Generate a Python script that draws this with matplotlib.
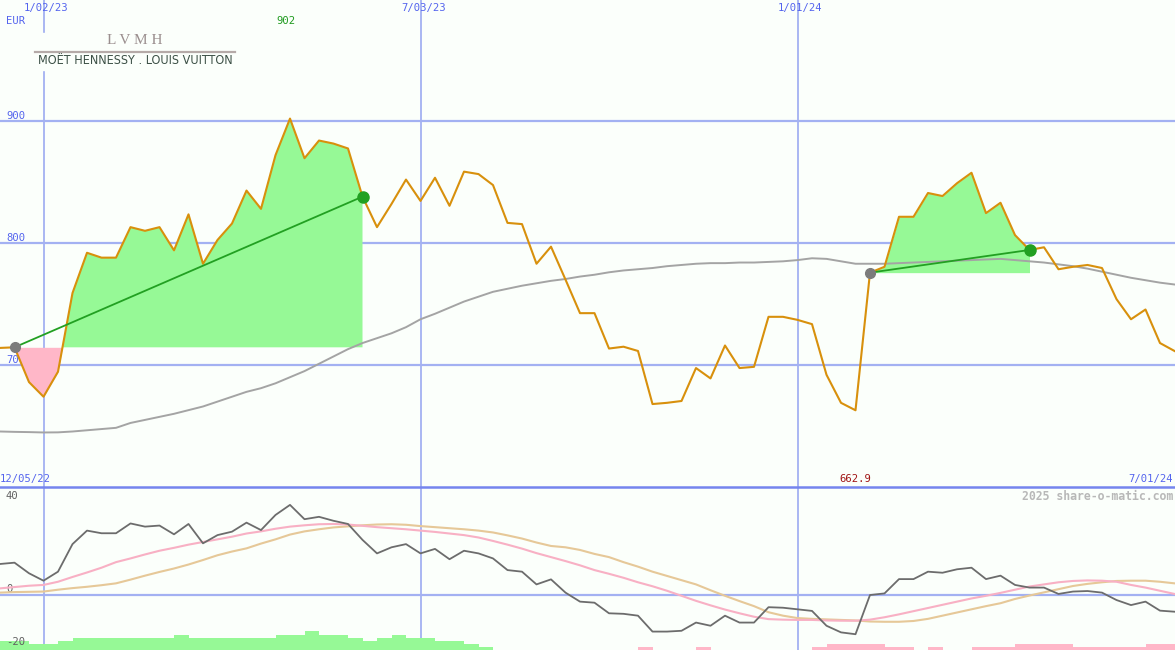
import matplotlib
matplotlib.use("Agg")
import matplotlib.pyplot as plt
import numpy as np
from matplotlib import font_manager
from matplotlib.lines import Line2D
from matplotlib.patches import Rectangle

# weekly closes, 12/12/22 .. 7/01/24 (EUR)
price = [714, 714.5, 686, 674, 694.5, 759, 792, 788, 788, 813,
         810, 813, 794, 823.5, 783, 802.5, 816, 843, 828, 872,
         902, 869.5, 884, 881.5, 877.5, 838, 813, 832, 852, 834.5,
         853.5, 830.5, 858.5, 856.5, 847.5, 816.5, 815.5, 783, 797, 770,
         742.5, 742.5, 713.5, 715, 711.5, 668, 669, 670.5, 697.5, 689,
         716, 697.5, 698.5, 739.5, 739.5, 737, 733.5, 692, 669, 662.9,
         775.7, 780.5, 821.5, 821.5, 841, 838.5, 849, 857.6, 824.5, 833,
         806.5, 794.3, 796.5, 778.5, 780.5, 782, 779.5, 754, 737.5, 745.5,
         718, 711.5]

# long moving average (gray)
ma_long = [645.5, 645.2, 645, 644.7, 644.8, 645.5, 646.5, 647.5, 648.5, 652.5,
           655, 657.5, 660, 663, 666, 670, 674, 678, 681, 685,
           690, 695, 701, 707, 713, 718, 722, 726, 731, 737.5,
           742, 747, 752, 756, 760, 762.5, 765, 767, 769, 770.5,
           772.5, 774, 776, 777.5, 778.5, 779.5, 781, 782, 783, 783.5,
           783.5, 784, 784, 784.5, 785, 786, 787.5, 787, 785, 783,
           783, 783, 783.5, 784, 784.5, 785, 785.5, 786, 786.5, 787,
           786, 785, 784, 782.5, 781, 779, 776.5, 774, 771.5, 769.5,
           767.5, 766]

# lower panel oscillator (dark gray) and its two smoothings
osc = [11.7, 12.2, 8.2, 5.4, 8.8, 19.2, 24.3, 23.3, 23.3, 27,
       25.8, 26.2, 22.9, 26.8, 19.5, 22.6, 23.9, 27.3, 24.5, 30.2,
       34, 28.6, 29.5, 28, 26.8, 20.8, 15.7, 18, 19.2, 15.7,
       17.4, 13.5, 16.7, 15.7, 13.8, 9.4, 8.8, 4, 5.9, 0.9,
       -2.5, -2.9, -6.9, -7.1, -7.8, -13.8, -13.8, -13.5, -10.4, -11.6,
       -7.8, -10.4, -10.4, -4.6, -4.8, -5.4, -6, -11.6, -14.1, -14.8,
       0, 0.6, 6, 6, 8.8, 8.4, 9.7, 10.3, 6, 7.3,
       3.8, 2.8, 2.8, 0.4, 1.3, 1.5, 0.9, -1.9, -3.8, -2.5,
       -5.9, -6.3]

osc_fast = [2.5, 3, 3.5, 3.8, 5, 6.8, 8.5, 10.3, 12.4, 13.8,
            15.3, 16.7, 17.8, 19, 20, 21, 22, 23.2, 24, 25,
            25.8, 26.3, 26.7, 26.8, 26.6, 26.1, 25.6, 25.2, 24.8, 24.3,
            23.8, 23.2, 22.6, 21.7, 20.4, 19, 17.5, 15.8, 14.3, 12.8,
            11.2, 9.4, 8, 6.5, 4.8, 3.3, 1.6, -0.3, -2.2, -3.9,
            -5.5, -6.9, -8.2, -9.1, -9.3, -9.4, -9.4, -9.6, -9.7, -9.7,
            -9.3, -8.4, -7.3, -6.1, -4.9, -3.7, -2.5, -1.3, -0.3, 0.8,
            2, 3.2, 4, 4.8, 5.3, 5.5, 5.4, 5, 3.8, 2.8,
            1.6, 0.4]

osc_slow = [0.9, 1.1, 1.2, 1.3, 2, 2.6, 3.1, 3.7, 4.4, 5.8,
            7.3, 8.7, 10, 11.5, 13.2, 15, 16.4, 17.6, 19.4, 21,
            22.8, 24, 24.8, 25.5, 25.9, 26.3, 26.6, 26.7, 26.5, 26,
            25.6, 25.2, 24.8, 24.3, 23.6, 22.5, 21.3, 19.8, 18.5, 18,
            17, 15.5, 14.3, 12.4, 10.7, 8.8, 7.2, 5.6, 4, 1.8,
            -0.3, -2.3, -4.2, -6.5, -7.8, -8.7, -9, -9.2, -9.4, -9.6,
            -10, -10.1, -10.1, -9.8, -9, -7.8, -6.6, -5.4, -4.2, -3.1,
            -1.5, -0.2, 1, 2.2, 3.4, 4.2, 4.8, 5.3, 5.4, 5.4,
            5, 4.4]

# histogram along the bottom edge: + green, - pink
hist = [3.4, 3.4, 2.3, 2.3, 3.4, 4.6, 4.6, 4.6, 4.6, 4.6,
        4.6, 4.6, 5.7, 4.6, 4.6, 4.6, 4.6, 4.6, 4.6, 5.7,
        5.7, 7.2, 5.7, 5.7, 4.6, 3.4, 4.6, 5.7, 4.6, 4.6,
        3.4, 3.4, 2.3, 1.1, 0, 0, 0, 0, 0, 0,
        0, 0, 0, 0, -1.1, 0, 0, 0, -1.1, 0,
        0, 0, 0, 0, 0, 0, -1.1, -2.3, -2.3, -2.3,
        -2.3, -1.1, -1.1, 0, -1.1, 0, 0, -1.1, -1.1, -1.1,
        -2.3, -2.3, -2.3, -2.3, -1.1, -1.1, -1.1, -1.1, -1.1, -2.3,
        -2.3, 0]

trend_runs = [(1, 25), (60, 71)]   # (start week, end week)
date_weeks = [3, 29, 55]
date_labels = ["1/02/23", "7/03/23", "1/01/24"]
price_levels = [700, 800, 900]

W, H = 1175, 650
BG = "#fbfffb"
GRID = "#a3b1f2"
BLUE_TXT = "#5464ee"
ORANGE = "#d8900c"
GREEN_FILL = "#96f996"
PINK_FILL = "#ffb7c8"
DARK_GREEN = "#22a022"
MONO = "DejaVu Sans Mono"

# narrow face for the logo strapline, if one is installed
names = {f.name for f in font_manager.fontManager.ttflist}
narrow = next((n for n in ["Liberation Sans Narrow", "Arial Narrow"] if n in names), None)
condensed = any(f.name == "DejaVu Sans" and f.stretch == "condensed"
                for f in font_manager.fontManager.ttflist)

weeks = np.arange(len(price))
xmax = W / 14.5
price_a = np.array(price)

fig = plt.figure(figsize=(W / 100, H / 100), dpi=100, facecolor=BG)
split = 163 / H
ax = fig.add_axes([0, split, 1, 1 - split])
ax2 = fig.add_axes([0, 0, 1, split])
for a in (ax, ax2):
    a.set_facecolor(BG)
    a.set_xlim(0, xmax)
    a.set_xticks([])
    a.set_yticks([])
    for s in a.spines.values():
        s.set_visible(False)
    for w in date_weeks:
        a.axvline(w, color=GRID, lw=1.3, zorder=0.5)

ax.set_ylim(600, 999.2)
ax2.set_ylim(-20.75, 40.75)


def label(a, x, y, s, color, ha="left", size=7.6, z=1, **kw):
    a.text(x / W, 1 - y / H, s, transform=fig.transFigure, color=color,
           ha=ha, va="center", fontsize=size, family=MONO, zorder=z, **kw)


# ---- top panel ----
for lv in price_levels:
    ax.axhline(lv, color=GRID, lw=1.6, zorder=0.5)
    label(ax, 6, 121 - (lv - 900) * 1.22 - 5, str(lv), BLUE_TXT)

for (a0, a1) in trend_runs:
    xs = weeks[a0:a1 + 1]
    ys = price_a[a0:a1 + 1]
    base = price_a[a0]
    ax.fill_between(xs, ys, base, where=ys >= base, interpolate=True,
                    color=GREEN_FILL, lw=0, zorder=2)
    ax.fill_between(xs, ys, base, where=ys <= base, interpolate=True,
                    color=PINK_FILL, lw=0, zorder=2)

ax.plot(weeks, ma_long, color="#a4a4a4", lw=1.4, zorder=3)
ax.plot(weeks, price, color=ORANGE, lw=1.5, zorder=4)

for (a0, a1) in trend_runs:
    ax.plot([a0, a1], [price[a0], price[a1]], color=DARK_GREEN, lw=1.3, zorder=5)
    ax.plot(a0, price[a0], "o", ms=7, color="#7c7c7c", zorder=6)
    ax.plot(a1, price[a1], "o", ms=8, color=DARK_GREEN, zorder=6)

for w, s in zip(date_weeks, date_labels):
    label(ax, w * 14.5 + 3, 8, s, BLUE_TXT, ha="center")
label(ax, 6, 21, "EUR", BLUE_TXT)
hi = int(np.argmax(price))
label(ax, hi * 14.5 - 4, 21, f"{max(price):.0f}", "#1f9a1f", ha="center")
lo = int(np.argmin(price))
label(ax, lo * 14.5, 479, f"{min(price):.1f}", "#a01414", ha="center")
label(ax, 0, 479, "12/05/22", BLUE_TXT)
label(ax, 1173, 479, "7/01/24", BLUE_TXT, ha="right")

# logo block
ax.add_patch(Rectangle((33 / W, 1 - 70 / H), 204 / W, 37 / H,
                       transform=fig.transFigure, color=BG, zorder=7))
ax.text(135 / W, 1 - 41 / H, "L V M H", transform=fig.transFigure,
        ha="center", va="center", fontsize=11, family="Liberation Serif",
        color="#9a8e8e", zorder=8)
ax.add_line(Line2D([35 / W, 235 / W], [1 - 51.5 / H] * 2, transform=fig.transFigure,
                   color="#b5aaa8", lw=1.6, zorder=8))
if narrow:
    strap = dict(family=narrow, fontsize=9.2)
elif condensed:
    strap = dict(family="DejaVu Sans", fontstretch="condensed", fontsize=9.0)
else:
    strap = dict(family="DejaVu Sans", fontsize=8.3)
ax.text(135 / W, 1 - 61 / H, "MOËT HENNESSY . LOUIS VUITTON", transform=fig.transFigure,
        ha="center", va="center", color="#3c5046", zorder=8, **strap)

# ---- lower panel ----
ax2.axhline(0, color=GRID, lw=1.6, zorder=0.5)
hist_a = np.array(hist)
ax2.bar(weeks, np.abs(hist_a), width=1, align="edge", bottom=-20.75,
        color=np.where(hist_a >= 0, GREEN_FILL, PINK_FILL), lw=0, zorder=1)
ax2.plot(weeks, osc_slow, color="#e6c898", lw=1.5, zorder=2)
ax2.plot(weeks, osc_fast, color="#f8b0c4", lw=1.5, zorder=2)
ax2.plot(weeks, osc, color="#6c6c6c", lw=1.3, zorder=3)

label(ax2, 6, 496, "40", "#606060")
label(ax2, 6, 589, "0", "#606060")
label(ax2, 6, 642, "-20", "#606060")
label(ax2, 1173, 496, "2025 share-o-matic.com", "#b8b8b8", ha="right",
      size=8.3, fontweight="bold")

fig.add_artist(Line2D([0, 1], [split, split], transform=fig.transFigure,
                      color="#7585ee", lw=1.8))

fig.savefig("out.png", dpi=100, facecolor=BG)
